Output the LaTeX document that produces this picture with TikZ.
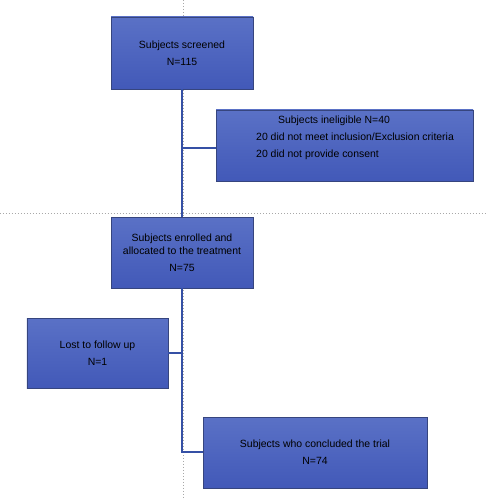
\documentclass[tikz,border=0pt]{standalone}
\usepackage{fontspec}
\setmainfont{Liberation Sans}
\definecolor{boxtop}{HTML}{5A71C6}
\definecolor{boxbot}{HTML}{4259B8}
\definecolor{boxedge}{HTML}{36457E}
\definecolor{linkblue}{HTML}{3550A5}
\definecolor{guide}{HTML}{A8A8A8}
\tikzset{
  flowbox/.style={draw=boxedge, line width=0.9bp, top color=boxtop, bottom color=boxbot,
    rectangle, inner sep=0pt, align=center,
    font=\fontsize{10.5}{17}\selectfont, text=black},
  plain/.style={inner sep=0pt, font=\fontsize{10.5}{17}\selectfont, text=black},
  link/.style={draw=linkblue, line width=1.6bp},
  guideline/.style={draw=guide, line width=1bp, dotted}
}
\begin{document}
\begin{tikzpicture}[x=1bp, y=-1bp]
\useasboundingbox (0,0) rectangle (490,500);
\fill[white] (0,0) rectangle (490,500);
% guide lines
\coordinate (vt) at (183,0);
\coordinate (vb) at (183,500);
\coordinate (hl) at (0,213);
\coordinate (hr) at (487,213);
\draw[guideline] (vt) -- (vb);
\draw[guideline] (hl) -- (hr);
% boxes
\node[flowbox, minimum width=142bp, minimum height=72bp] (screen) at (182,53)
  {Subjects screened\\N=115};
\node[flowbox, minimum width=257bp, minimum height=71bp] (inel) at (344.5,145.5) {};
\node[plain, anchor=base] (inelA) at (334,124) {Subjects ineligible N=40};
\node[plain, anchor=base west] (inelB) at (256,141) {20 did not meet inclusion/Exclusion criteria};
\node[plain, anchor=base west] (inelC) at (256,157.5) {20 did not provide consent};
\node[flowbox, minimum width=142bp, minimum height=71bp] (enrol) at (182,252.5)
  {Subjects enrolled and\\[-4bp]allocated to the treatment\\N=75};
\node[flowbox, minimum width=141bp, minimum height=70bp] (lost) at (97.5,353)
  {Lost to follow up\\N=1};
\node[flowbox, minimum width=224bp, minimum height=71bp] (concl) at (315,452.5)
  {Subjects who concluded the trial\\N=74};
% connectors
\coordinate (j1) at (182,148);
\coordinate (j2) at (182,353);
\coordinate (j3) at (182,452);
\draw[link] (screen.south -| j1) -- (enrol.north -| j1);
\draw[link] (j1) -- (inel.west |- j1);
\draw[link] (enrol.south -| j3) -- (j3) -- (concl.west |- j3);
\draw[link] (j2) -- (lost.east |- j2);
\end{tikzpicture}
\end{document}
